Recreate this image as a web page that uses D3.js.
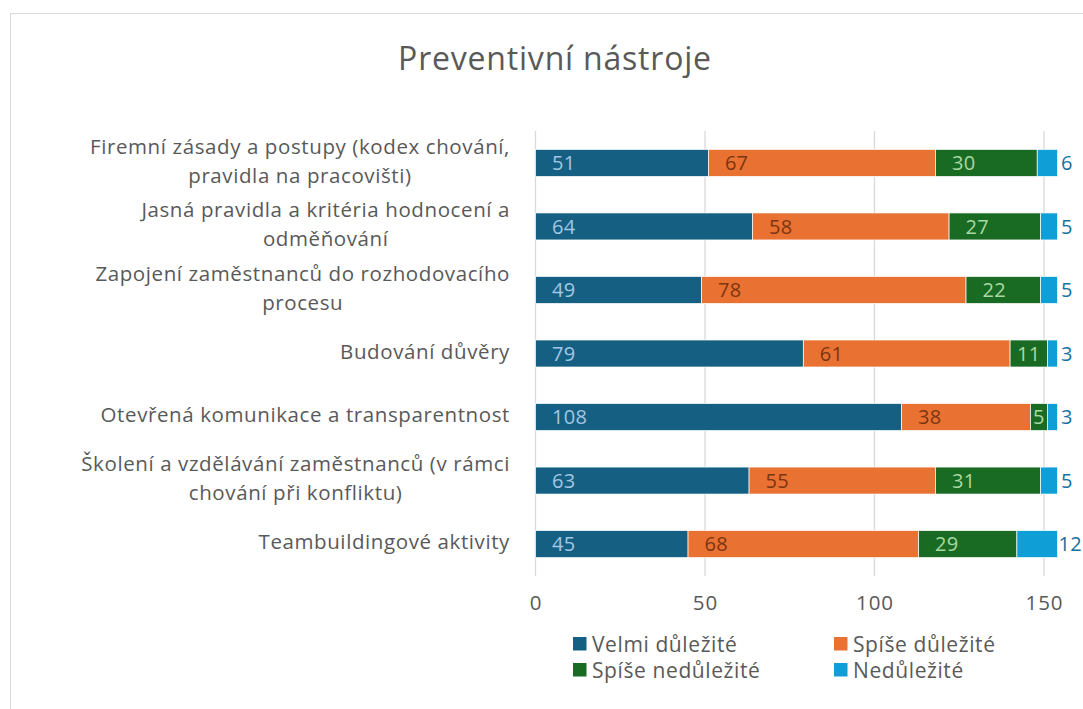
<!DOCTYPE html>
<html><head><meta charset="utf-8">
<script src="https://cdn.jsdelivr.net/npm/d3@7"></script>
<style>
html,body{margin:0;padding:0;background:#fff;}
svg{display:block;font-family:"Open Sans","Noto Sans",sans-serif;}
</style></head>
<body>
<svg id="chart" width="1083" height="709"></svg>
<script>
const categories = [
  ["Firemní zásady a postupy (kodex chování,", "pravidla na pracovišti)"],
  ["Jasná pravidla a kritéria hodnocení a", "odměňování"],
  ["Zapojení zaměstnanců do rozhodovacího", "procesu"],
  ["Budování důvěry"],
  ["Otevřená komunikace a transparentnost"],
  ["Školení a vzdělávání zaměstnanců (v rámci", "chování při konfliktu)"],
  ["Teambuildingové aktivity"]
];
const seriesNames = ["Velmi důležité", "Spíše důležité", "Spíše nedůležité", "Nedůležité"];
const velmiDulezite = [51, 64, 49, 79, 108, 63, 45];
const spiseDulezite = [67, 58, 78, 61, 38, 55, 68];
const spiseNedulezite = [30, 27, 22, 11, 5, 31, 29];
const nedulezite = [6, 5, 5, 3, 3, 5, 12];
const xTicks = [0, 50, 100, 150];
const title = "Preventivní nástroje";

const colors = ["#156082", "#E97132", "#196B24", "#0F9ED5"];
const labelColors = ["#a3c6e2", "#7b3511", "#a8d9a0", "#1472a0"];

const svg = d3.select("#chart");

// chart border
svg.append("rect").attr("x", 10.5).attr("y", 13.5).attr("width", 1100).attr("height", 720)
  .attr("fill", "#fff").attr("stroke", "#d9d9d9").attr("stroke-width", 1);

const x0 = 535.5, x1 = 1044;
const x = d3.scaleLinear().domain([0, 150]).range([x0, x1]);
const idx = d3.range(categories.length);
const y = d3.scaleBand().domain(idx).range([131, 576]).paddingInner(0.575).paddingOuter(0.29);

// gridlines
svg.append("g").selectAll("line").data(xTicks).join("line")
  .attr("x1", d => x(d)).attr("x2", d => x(d))
  .attr("y1", 131).attr("y2", 576)
  .attr("stroke", "#d9d9d9").attr("stroke-width", 1.3);

// axis
const axis = d3.axisBottom(x).tickValues(xTicks).tickSize(0).tickPadding(0).tickFormat(d3.format("d"));
const ga = svg.append("g").attr("transform", "translate(0,598)").call(axis);
ga.select(".domain").remove();
ga.selectAll("text").attr("font-size", 20.5).attr("letter-spacing", "1px").attr("fill", "#595959").attr("dy", "0.6em")
  .style("font-family", '"Open Sans","Noto Sans",sans-serif');

// stack
const rows = idx.map(i => ({i, v: [velmiDulezite[i], spiseDulezite[i], spiseNedulezite[i], nedulezite[i]]}));
const stack = d3.stack().keys([0,1,2,3]).value((d, k) => d.v[k]);
const stacked = stack(rows);

const bars = svg.append("g");
stacked.forEach((layer, k) => {
  bars.append("g").selectAll("rect").data(layer).join("rect")
    .attr("x", d => x(d[0]))
    .attr("width", d => x(d[1]) - x(d[0]))
    .attr("y", d => y(d.data.i))
    .attr("height", y.bandwidth())
    .attr("fill", colors[k])
    .attr("stroke", "#ffffff").attr("stroke-width", 0.7);
});

// labels
const labG = svg.append("g").attr("font-size", 20).attr("letter-spacing", "0.3px");
stacked.forEach((layer, k) => {
  layer.forEach(d => {
    const v = d.data.v[k];
    const t = labG.append("text")
      .attr("y", y(d.data.i) + y.bandwidth() / 2)
      .attr("dy", "0.36em")
      .attr("fill", labelColors[k])
      .text(v);
    const tw = t.node().getComputedTextLength();
    const bw = x(d[1]) - x(d[0]);
    if (k === 3) {
      t.attr("x", x(d[1]) + (v >= 10 ? 1 : 3.5));
    } else {
      t.attr("x", x(d[0]) + Math.min(16.5, Math.max(0, (bw - tw) / 2)));
    }
  });
});

// category labels
const catG = svg.append("g").attr("font-size", 20.5).attr("letter-spacing", "0.6px").attr("fill", "#595959");
categories.forEach((lines, i) => {
  const cy = y(i) + y.bandwidth() / 2;
  const g = catG.append("g");
  const lh = 29;
  const texts = lines.map((ln, j) => g.append("text")
    .attr("y", cy + (j - (lines.length - 1) / 2) * lh - 2)
    .attr("dy", "0.36em").attr("text-anchor", "middle").text(ln));
  const maxW = d3.max(texts, t => t.node().getComputedTextLength());
  texts.forEach(t => t.attr("x", 510 - maxW / 2));
});

// title
svg.append("text").attr("x", 555).attr("y", 58).attr("dy", "0.36em")
  .attr("text-anchor", "middle").attr("font-size", 32).attr("letter-spacing", "0.8px").attr("fill", "#595959")
  .text(title);

// legend
const legPos = [[573, 637], [834, 637], [573, 663], [834, 663]];
const lg = svg.append("g");
seriesNames.forEach((n, k) => {
  const [lx, ly] = legPos[k];
  lg.append("rect").attr("x", lx).attr("y", ly).attr("width", 13.5).attr("height", 13.5).attr("fill", colors[k]);
  lg.append("text").attr("x", lx + 19).attr("y", ly + 7).attr("dy", "0.36em")
    .attr("font-size", 21).attr("letter-spacing", "0.6px").attr("fill", "#595959").text(n);
});
</script>
</body></html>
